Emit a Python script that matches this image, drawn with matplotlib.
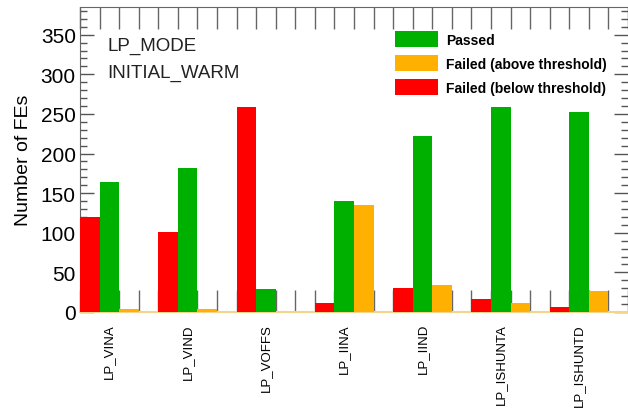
import numpy as np
import matplotlib
matplotlib.use('Agg')
import matplotlib.pyplot as plt
from matplotlib.ticker import MultipleLocator, FixedLocator

plt.rcParams['font.family'] = ['Liberation Sans', 'DejaVu Sans']

# data
tests = ['LP_VINA', 'LP_VIND', 'LP_VOFFS', 'LP_IINA', 'LP_IIND', 'LP_ISHUNTA', 'LP_ISHUNTD']
failed_below = [120, 101, 259, 11, 30, 17, 6]
passed = [164, 182, 29, 140, 222, 259, 253]
failed_above = [4, 4, 0, 135, 34, 11, 27]

c_red = '#ff0000'
c_green = '#00b000'
c_orange = '#ffb000'

fig = plt.figure(figsize=(6.28, 4.10), dpi=100)
ax = fig.add_axes([80 / 628, 97 / 410, 548 / 628, 305 / 410])

# each test takes 4 slots: red, green, orange, gap
x = np.arange(len(tests)) * 4
ax.bar(x, failed_below, width=1, align='edge', color=c_red, zorder=3,
       label='Failed (below threshold)')
ax.bar(x + 1, passed, width=1, align='edge', color=c_green, zorder=3,
       label='Passed')
ax.bar(x + 2, failed_above, width=1, align='edge', color=c_orange, zorder=3,
       label='Failed (above threshold)')

ax.set_xlim(0, len(tests) * 4)
ax.set_ylim(0, 385)

# y axis
ax.yaxis.set_major_locator(MultipleLocator(50))
ax.yaxis.set_minor_locator(MultipleLocator(10))
ax.tick_params(axis='y', which='major', direction='in', length=10, width=1,
               color='#555555', left=True, right=True, labelsize=15, pad=3)
ax.tick_params(axis='y', which='minor', direction='in', length=5, width=1,
               color='#555555', left=True, right=True)
ax.set_ylabel('Number of FEs', fontsize=14, labelpad=6)

# x axis: tick marks on every slot, labels under the green bars
ax.xaxis.set_major_locator(FixedLocator(x + 1.5))
ax.set_xticklabels(tests, rotation=90, fontsize=9.5)
ax.xaxis.set_minor_locator(MultipleLocator(1))
ax.tick_params(axis='x', which='major', length=0, pad=8)
ax.tick_params(axis='x', which='minor', direction='in', length=16, width=1,
               color='#666666', top=True, bottom=True)

for side in ['left', 'top']:
    ax.spines[side].set_color('#666666')
ax.spines['right'].set_visible(False)
ax.spines['bottom'].set_color('#f5d48a')
ax.spines['bottom'].set_linewidth(1.5)

ax.text(0.05, 0.875, 'LP_MODE', transform=ax.transAxes, fontsize=13.5,
        color='#222222', va='center')
ax.text(0.05, 0.787, 'INITIAL_WARM', transform=ax.transAxes, fontsize=13.5,
        color='#222222', va='center')

handles, labels = ax.get_legend_handles_labels()
order = [1, 2, 0]
leg = ax.legend([handles[i] for i in order], [labels[i] for i in order],
                loc='upper left', bbox_to_anchor=(0.575, 0.92), frameon=False,
                borderpad=0, borderaxespad=0, handlelength=3.1, handleheight=1.35,
                handletextpad=0.6, labelspacing=0.6,
                prop={'size': 10, 'weight': 'bold'})

fig.savefig('out.png', dpi=100)
